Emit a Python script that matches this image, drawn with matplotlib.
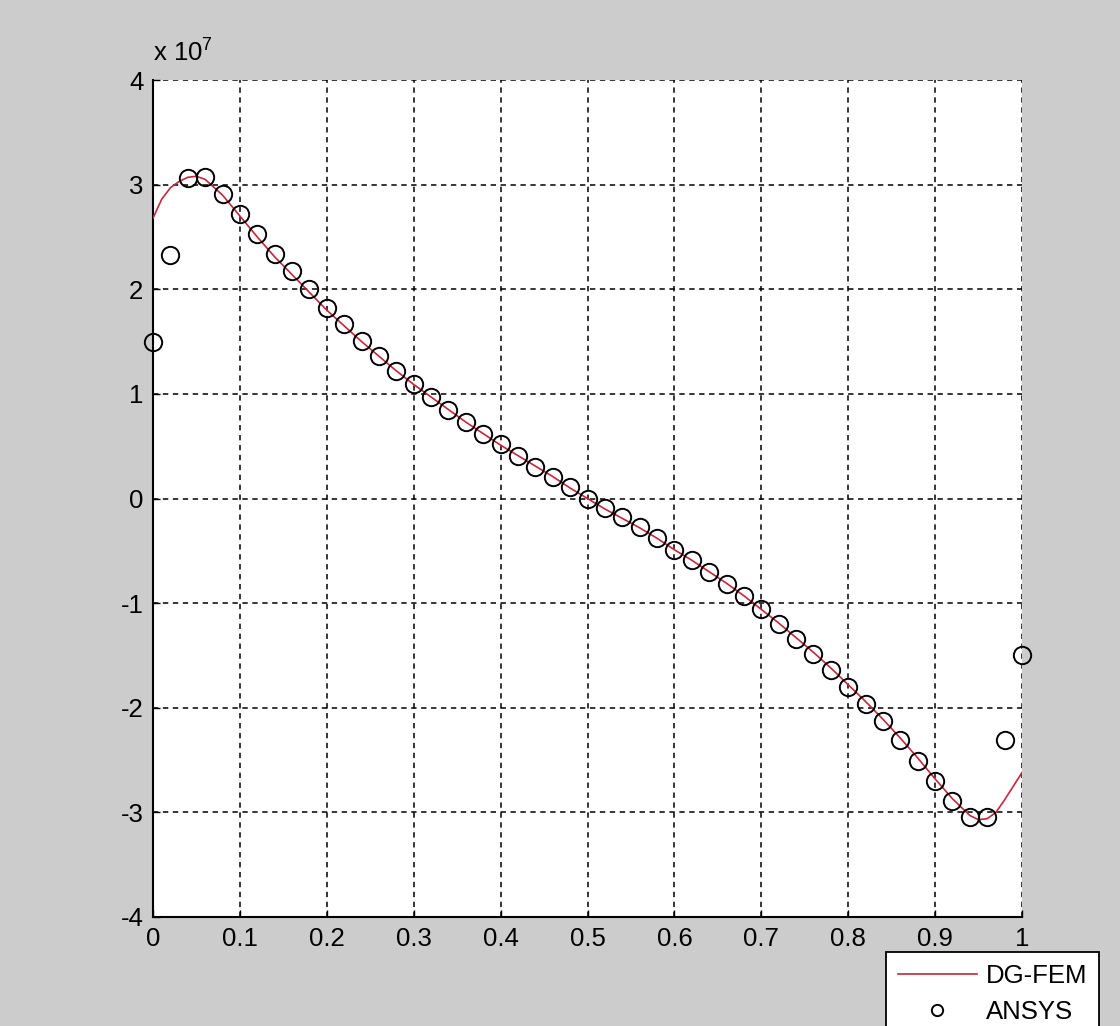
import matplotlib
matplotlib.use("Agg")
import matplotlib.pyplot as plt
from matplotlib.ticker import FuncFormatter

plt.rcParams['font.family'] = ['Liberation Sans', 'DejaVu Sans']
plt.rcParams['mathtext.fontset'] = 'custom'
plt.rcParams['mathtext.rm'] = 'Liberation Sans'
plt.rcParams['mathtext.it'] = 'Liberation Sans'

SCALE = 1e7

# ANSYS sample points (x, value in units of 1e7)
ansys_x = [0.00, 0.02, 0.04, 0.06, 0.08, 0.10, 0.12, 0.14, 0.16, 0.18,
           0.20, 0.22, 0.24, 0.26, 0.28, 0.30, 0.32, 0.34, 0.36, 0.38,
           0.40, 0.42, 0.44, 0.46, 0.48, 0.50, 0.52, 0.54, 0.56, 0.58,
           0.60, 0.62, 0.64, 0.66, 0.68, 0.70, 0.72, 0.74, 0.76, 0.78,
           0.80, 0.82, 0.84, 0.86, 0.88, 0.90, 0.92, 0.94, 0.96, 0.98, 1.00]
ansys_y = [1.50, 2.33, 3.06, 3.07, 2.91, 2.72, 2.53, 2.34, 2.17, 2.00,
           1.82, 1.67, 1.51, 1.36, 1.22, 1.09, 0.97, 0.85, 0.73, 0.62,
           0.52, 0.41, 0.30, 0.21, 0.11, 0.00, -0.09, -0.18, -0.27, -0.38,
           -0.49, -0.59, -0.70, -0.82, -0.93, -1.06, -1.20, -1.34, -1.49, -1.64,
           -1.80, -1.96, -2.13, -2.31, -2.51, -2.70, -2.89, -3.04, -3.04, -2.31, -1.50]

# DG-FEM curve (x, value in units of 1e7)
dg_x = [0.00, 0.01, 0.02, 0.03, 0.04, 0.05, 0.06, 0.08, 0.10, 0.12,
        0.14, 0.16, 0.18, 0.20, 0.22, 0.24, 0.26, 0.28, 0.30, 0.32,
        0.34, 0.36, 0.38, 0.40, 0.42, 0.44, 0.46, 0.48, 0.50, 0.52,
        0.54, 0.56, 0.58, 0.60, 0.62, 0.64, 0.66, 0.68, 0.70, 0.72,
        0.74, 0.76, 0.78, 0.80, 0.82, 0.84, 0.86, 0.88, 0.90, 0.92,
        0.94, 0.95, 0.96, 0.97, 0.98, 0.99, 1.00]
dg_y = [2.68, 2.86, 2.97, 3.03, 3.07, 3.08, 3.05, 2.90, 2.70, 2.50,
        2.31, 2.14, 1.97, 1.80, 1.65, 1.50, 1.36, 1.22, 1.09, 0.97,
        0.85, 0.73, 0.62, 0.51, 0.41, 0.31, 0.21, 0.10, 0.00, -0.10,
        -0.19, -0.28, -0.38, -0.49, -0.59, -0.70, -0.81, -0.93, -1.06, -1.19,
        -1.33, -1.47, -1.62, -1.78, -1.94, -2.11, -2.29, -2.48, -2.68, -2.87,
        -3.03, -3.07, -3.06, -3.00, -2.88, -2.75, -2.62]

x_ticks = [0, 0.1, 0.2, 0.3, 0.4, 0.5, 0.6, 0.7, 0.8, 0.9, 1]
y_ticks = [-4, -3, -2, -1, 0, 1, 2, 3, 4]

FS = 18.5
fig = plt.figure(figsize=(11.2, 10.26), dpi=100, facecolor='#cccccc')
ax = fig.add_axes([153/1120, 109/1026, 869/1120, 837/1026])
ax.set_facecolor('white')

ax.plot(dg_x, [v * SCALE for v in dg_y], color='#c4263e', lw=1.2, label='DG-FEM', zorder=3)
ax.plot(ansys_x, [v * SCALE for v in ansys_y], linestyle='none', marker='o',
        markersize=12.5, markerfacecolor='none', markeredgecolor='black',
        markeredgewidth=1.4, label='ANSYS', zorder=4, clip_on=False)

ax.set_xlim(0, 1)
ax.set_ylim(-4 * SCALE, 4 * SCALE)
ax.set_xticks(x_ticks)
ax.set_yticks([v * SCALE for v in y_ticks])
ax.xaxis.set_major_formatter(FuncFormatter(lambda v, p: ('%g' % round(v, 2))))
ax.yaxis.set_major_formatter(FuncFormatter(lambda v, p: ('%g' % round(v / SCALE, 2))))

ax.grid(True, color='black', linestyle=(0, (3.5, 3.0)), linewidth=1.1)
for s in ['top', 'right']:
    ax.spines[s].set_visible(False)
for s in ['left', 'bottom']:
    ax.spines[s].set_linewidth(1.5)
ax.tick_params(direction='in', length=5, width=1, labelsize=FS, pad=7, colors='black')
ax.set_axisbelow(True)

ax.text(0.0, 1.016, r'x 10$^{7}$', transform=ax.transAxes, fontsize=FS,
        ha='left', va='bottom')

leg = fig.legend(loc='upper left', bbox_to_anchor=(886/1120, 1 - 952/1026),
                 bbox_transform=fig.transFigure, fontsize=FS, frameon=True,
                 fancybox=False, edgecolor='black', framealpha=1,
                 handlelength=3.1, handletextpad=0.35, borderpad=0.45,
                 labelspacing=0.5, borderaxespad=0, markerscale=0.65)
leg.get_frame().set_linewidth(1.3)

fig.savefig('out.png', dpi=100, facecolor=fig.get_facecolor())
